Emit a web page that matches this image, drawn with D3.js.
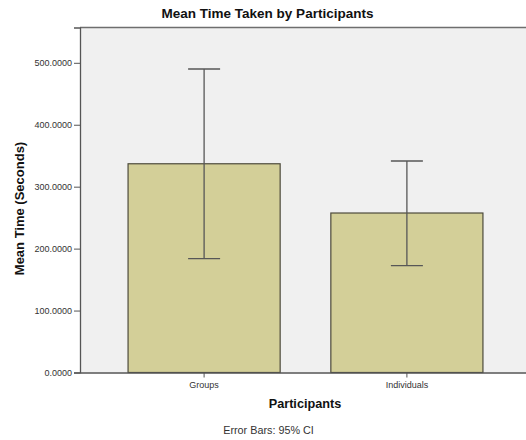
<!DOCTYPE html>
<html>
<head>
<meta charset="utf-8">
<script src="https://cdn.jsdelivr.net/npm/d3@7"></script>
<style>
  html, body { margin: 0; padding: 0; background: #ffffff; }
  svg { display: block; }
</style>
</head>
<body>
<script>
const categories = ["Groups", "Individuals"];
const means = [337, 257.5];
const ciLow = [184, 172.5];
const ciHigh = [490, 341.5];
const yTicks = [0, 100, 200, 300, 400, 500];
const title = "Mean Time Taken by Participants";
const xTitle = "Participants";
const yTitle = "Mean Time (Seconds)";
const footnote = "Error Bars: 95% CI";

(function () {
const W = 526, H = 440;
const svg = d3.select("body").append("svg").attr("width", W).attr("height", H);
const font = "'Liberation Sans', Arial, sans-serif";

const pLeft = 80, pRight = 531, pTop = 27.5, pBottom = 372.5;
const x = d3.scaleBand().domain(categories).range([pLeft, pRight]).paddingInner(0.25).paddingOuter(0.237);
const y = d3.scaleLinear().domain([0, 557]).range([pBottom, pTop]);

// plot background
svg.append("rect").attr("x", pLeft).attr("y", pTop).attr("width", pRight - pLeft).attr("height", pBottom - pTop)
  .attr("fill", "#f0f0f0");
// top border
svg.append("line").attr("x1", pLeft).attr("x2", pRight).attr("y1", pTop).attr("y2", pTop)
  .attr("stroke", "#6e6e6e").attr("stroke-width", 1.6);

// bars
svg.append("g").selectAll("rect").data(categories).join("rect")
  .attr("x", d => x(d)).attr("width", x.bandwidth())
  .attr("y", (d, i) => y(means[i])).attr("height", (d, i) => y(0) - y(means[i]))
  .attr("fill", "#d3cf98").attr("stroke", "#4d4b3c").attr("stroke-width", 1.2);

// error bars
const eb = svg.append("g").attr("stroke", "#575757").attr("stroke-width", 1.3);
categories.forEach((c, i) => {
  const cx = x(c) + x.bandwidth() / 2;
  eb.append("line").attr("x1", cx).attr("x2", cx).attr("y1", y(ciLow[i])).attr("y2", y(ciHigh[i]));
  eb.append("line").attr("x1", cx - 16).attr("x2", cx + 16).attr("y1", y(ciLow[i])).attr("y2", y(ciLow[i]));
  eb.append("line").attr("x1", cx - 16).attr("x2", cx + 16).attr("y1", y(ciHigh[i])).attr("y2", y(ciHigh[i]));
});

// y axis
const yAxis = d3.axisLeft(y).tickValues(yTicks).tickFormat(d3.format(".4f")).tickSizeOuter(0).tickSize(6).tickPadding(2);
const gy = svg.append("g").attr("transform", `translate(${pLeft},0)`).call(yAxis);
gy.select(".domain").attr("stroke", "#555").attr("stroke-width", 1.3);
gy.selectAll(".tick line").attr("stroke", "#555");
gy.selectAll(".tick text").attr("font-family", font).attr("font-size", "9px").attr("fill", "#333");

// x axis
const xAxis = d3.axisBottom(x).tickSize(5).tickSizeOuter(0).tickPadding(4);
const gx = svg.append("g").attr("transform", `translate(0,${pBottom})`).call(xAxis);
gx.select(".domain").attr("stroke", "#555").attr("stroke-width", 1.3);
gx.selectAll(".tick line").attr("stroke", "#555");
gx.selectAll(".tick text").attr("font-family", font).attr("font-size", "9px").attr("fill", "#333");

// titles
svg.append("text").attr("x", 267.5).attr("y", 18).attr("text-anchor", "middle")
  .attr("font-family", font).attr("font-weight", "bold").attr("font-size", "13.5px").attr("fill", "#111").text(title);
svg.append("text").attr("x", 305).attr("y", 408).attr("text-anchor", "middle")
  .attr("font-family", font).attr("font-weight", "bold").attr("font-size", "12.7px").attr("fill", "#111").text(xTitle);
svg.append("text").attr("transform", "translate(24,208.5) rotate(-90)").attr("text-anchor", "middle")
  .attr("font-family", font).attr("font-weight", "bold").attr("font-size", "13px").attr("fill", "#111").text(yTitle);
svg.append("text").attr("x", 268.5).attr("y", 434).attr("text-anchor", "middle")
  .attr("font-family", font).attr("font-size", "10.8px").attr("fill", "#333").text(footnote);
})();
</script>
</body>
</html>
